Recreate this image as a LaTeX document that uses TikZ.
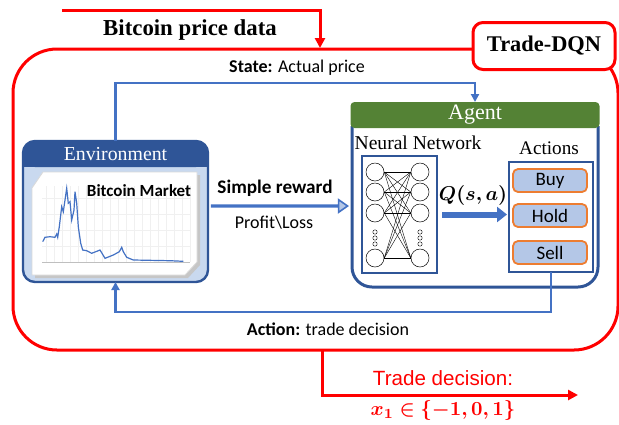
\documentclass[tikz,border=0pt]{standalone}
\usepackage{fontspec}
\usepackage{bm}
\setmainfont{Liberation Serif}
\newfontfamily\califont{Carlito}
\newfontfamily\arialfont{Liberation Sans}
\usetikzlibrary{arrows.meta,shapes.arrows}
\definecolor{lineblue}{HTML}{4472C4}
\definecolor{darkblue}{HTML}{2F5597}
\definecolor{agentgreen}{HTML}{548235}
\definecolor{boxfill}{HTML}{B4C7E7}
\definecolor{btnorange}{HTML}{ED7D31}
\definecolor{envfill}{HTML}{C9D9EF}

\begin{document}
\begin{tikzpicture}[x = 0.5pt, y = -0.5pt,
  redline/.style = {draw = red, line width = 1.5pt},
  blueline/.style = {draw = lineblue, line width = 1.2pt},
  box/.style = {inner sep = 0pt, outer sep = 0pt},
  btn/.style = {draw = btnorange, fill = boxfill, line width = 0.9pt, rounded corners = 2.5pt,
    minimum width = 37pt, minimum height = 11.5pt, inner sep = 0pt, font = \califont\fontsize{9.5}{11}\selectfont},
  neuron/.style = {circle, draw, line width = 0.25pt, minimum size = 9pt, inner sep = 0pt},
  sans/.style = {font = \califont\fontsize{9}{11}\selectfont}]

\useasboundingbox (0,0) rectangle (619,424);

\node [box, redline, rounded corners = 22pt, minimum width = 302.5pt, minimum height = 150.5pt] (frame) at (315.5,199.5) {};
\node [box, redline, fill = white, rounded corners = 5pt, minimum width = 71pt, minimum height = 23.5pt,
  font = \bfseries\fontsize{11.2}{13}\selectfont] (tdqn) at (544,46) {Trade-DQN};

\node [font = \bfseries\fontsize{11.4}{13}\selectfont] (btcdata) at (190,30) {Bitcoin price data};
\coordinate (src) at (62,10);
\draw [redline, -{Triangle[length = 5pt, width = 5pt]}, shorten >= 0.5pt] (src) -| ([xshift = 2.25pt]frame.north);

% environment
\node [box, draw = darkblue, line width = 1.2pt, fill = envfill, rounded corners = 6pt,
  minimum width = 92.5pt, minimum height = 70.5pt] (env) at (115.5,211.5) {};
\fill [darkblue, rounded corners = 6pt] (env.north west) rectangle ([yshift = -13pt]env.north east);
\fill [darkblue] ([yshift = -7pt]env.north west) rectangle ([yshift = -13pt]env.north east);
\node [text = white, font = \fontsize{9.9}{12}\selectfont] (envtitle) at (115.5,154) {Environment};
\fill [gray!45] (35,191) -- (46,175) -- (200,175) -- (200,265) -- (188,278) -- (35,278) -- cycle;
\filldraw [fill = white, draw = gray!30] (32,188) -- (43,172) -- (197,172) -- (197,262) -- (185,275) -- (32,275) -- cycle;
\foreach \gx in {46,54,...,190} \draw [gray!12, line width = 0.2pt] (\gx,186) -- (\gx,262);
\foreach \gy in {198,214,230,246} \draw [gray!12, line width = 0.2pt] (42,\gy) -- (190,\gy);
\draw [gray!50, line width = 0.3pt] (42,262) -- (190,262);
\draw [lineblue, line width = 0.6pt] plot coordinates {(42.7,241.7) (45,237.3) (50,236.7) (55,237.3) (56.7,234)
  (57.7,237.3) (59.3,226.7) (61.7,206.7) (63.3,211.7) (65,200) (66.7,188.3) (68.3,203.3) (70,201.7)
  (71.7,220) (74,210) (75,191.7) (76.7,203.3) (78.3,226.7) (80.7,243.3) (82.7,250) (86.7,250.7)
  (91.7,253.3) (100,250) (105,258.3) (113.3,255) (119.3,251.7) (121.7,247.3) (123.3,251.7)
  (126.7,257.3) (133.3,260) (170,260.7) (183.3,261.3)};
\node [font = \califont\bfseries\fontsize{8.5}{10}\selectfont] (market) at (139,191) {Bitcoin Market};

% agent
\node [box, minimum width = 123pt, minimum height = 92.5pt] (agent) at (475,194.5) {};
\draw [darkblue, line width = 1.5pt, rounded corners = 10pt] ([yshift = -12pt]agent.north west)
  -- (agent.south west) -- (agent.south east) -- ([yshift = -12pt]agent.north east);
\fill [agentgreen, rounded corners = 2pt] ([xshift = -0.75pt]agent.north west) rectangle ([xshift = 0.75pt, yshift = -13pt]agent.north east);
\node [text = white, font = \fontsize{11}{13}\selectfont] (agenttitle) at (475,115) {Agent};

\node [font = \fontsize{9.8}{12}\selectfont] (nntitle) at (418,143) {Neural Network};
\node [box, draw = darkblue, line width = 0.8pt, minimum width = 37.5pt, minimum height = 58.5pt] (nn) at (399.5,214.5) {};
\foreach \i/\ny in {1/172,2/192,3/213,4/258} {
  \node [neuron] (l\i) at (375,\ny) {};
  \node [neuron] (r\i) at (420,\ny) {};
}
\foreach \i in {1,...,4}
  \foreach \j in {1,...,4}
    \draw [line width = 0.2pt] (l\i.east) -- (r\j.west);
\foreach \k/\ny in {1/232,2/238,3/244} {
  \node [neuron, minimum size = 2.2pt, line width = 0.2pt] (dl\k) at (375,\ny) {};
  \node [neuron, minimum size = 2.2pt, line width = 0.2pt] (dr\k) at (420,\ny) {};
}

\node [font = \fontsize{10}{12}\selectfont] (qval) at (473,195) {$\bm{Q(s,a)}$};
\node [font = \fontsize{9.6}{12}\selectfont] (actstitle) at (549,148) {Actions};
\node [box, draw = darkblue, line width = 0.8pt, minimum width = 42pt, minimum height = 55pt] (acts) at (551,217) {};
\node [btn] (buy) at (550,180.5) {Buy};
\node [btn] (hold) at (550,215.5) {Hold};
\node [btn] (sell) at (550,252.5) {Sell};
\draw [lineblue, line width = 3pt, -{Triangle[length = 5pt, width = 7.5pt]}, shorten <= 2.5pt, shorten >= 1pt] (nn.east) -- (nn.east -| acts.west);

% reward
\node [single arrow, draw = lineblue, fill = boxfill, line width = 0.8pt, minimum height = 68pt, minimum width = 3.5pt,
  single arrow head extend = 2.75pt, single arrow tip angle = 70, inner sep = 0pt] (rew) at (279,206) {};
\node [font = \califont\bfseries\fontsize{9.6}{11}\selectfont] (rewtitle) at (275,188) {Simple reward};
\node [sans] (rewsub) at (274,223) {Profit\textbackslash Loss};

% feedback loops
\coordinate (statey) at (297,83);
\draw [blueline, -{Triangle[length = 4pt, width = 4pt]}] (env.north) |- (statey) -| (agent.north);
\node [sans] (statelbl) at (297,68) {\textbf{State:} Actual price};
\coordinate (acty) at (328,312);
\draw [blueline, -{Triangle[length = 4pt, width = 4pt]}] (acts.south) |- (acty) -| (env.south);
\node [sans] (actlbl) at (328,329) {\textbf{Action:} trade decision};

% output
\coordinate (dst) at (578,395);
\draw [redline, -{Triangle[length = 5pt, width = 5pt]}] ([xshift = 3.25pt]frame.south) |- (dst);
\node [text = red, font = \arialfont\fontsize{10.3}{12}\selectfont] (outlbl) at (443,378) {Trade decision:};
\node [text = red, font = \fontsize{10}{12}\selectfont] (outset) at (443,410) {$\bm{x_1 \in \{-1,0,1\}}$};
\end{tikzpicture}
\end{document}
